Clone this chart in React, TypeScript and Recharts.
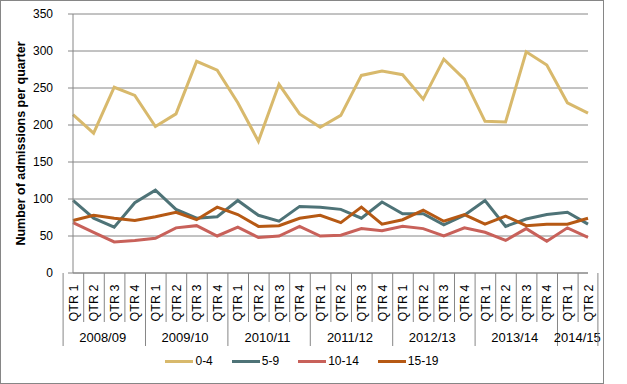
import { LineChart, Line, XAxis, YAxis, CartesianGrid, Legend } from "recharts";

// categories
const years = ["2008/09", "2009/10", "2010/11", "2011/12", "2012/13", "2013/14", "2014/15"];
const quartersInYear = [4, 4, 4, 4, 4, 4, 2];
const quarterNames = ["QTR 1", "QTR 2", "QTR 3", "QTR 4"];

// admissions per quarter, by age group
const age0to4 = [214, 189, 251, 240, 198, 215, 286, 274, 230, 178, 255, 215, 197, 213, 267, 273, 268, 235, 289, 262, 205, 204, 299, 281, 230, 216];
const age5to9 = [98, 74, 62, 95, 112, 86, 74, 76, 98, 78, 70, 90, 89, 86, 74, 96, 80, 80, 65, 78, 98, 63, 73, 79, 82, 66];
const age10to14 = [68, 55, 42, 44, 47, 61, 64, 50, 62, 48, 50, 63, 50, 51, 60, 57, 63, 60, 50, 61, 55, 44, 60, 43, 61, 48];
const age15to19 = [71, 78, 74, 71, 76, 82, 72, 89, 79, 63, 64, 74, 78, 68, 89, 66, 72, 85, 70, 79, 66, 77, 64, 66, 66, 74];

const yTicks = [0, 50, 100, 150, 200, 250, 300, 350];

const series = [
  { key: "0-4", values: age0to4, color: "#D8B96C" },
  { key: "5-9", values: age5to9, color: "#4E7377" },
  { key: "10-14", values: age10to14, color: "#C8615A" },
  { key: "15-19", values: age15to19, color: "#B65914" },
];

const categories: { year: string; quarter: string; yearSize: number }[] = [];
years.forEach((year, yi) => {
  for (let q = 0; q < quartersInYear[yi]; q++) {
    categories.push({ year, quarter: quarterNames[q], yearSize: quartersInYear[yi] });
  }
});

const data = categories.map((c, i) => {
  const row: Record<string, string | number> = { cat: `${c.year} ${c.quarter}` };
  series.forEach((s) => (row[s.key] = s.values[i]));
  return row;
});

const W = 602;
const H = 382;
const PLOT_LEFT = 72;
const PLOT_RIGHT = 587;
const BAND = (PLOT_RIGHT - PLOT_LEFT) / categories.length;
const FONT = "'Liberation Sans', Arial, sans-serif";
const AXIS = "#868686";

function QuarterTick(props: any) {
  const { x, y, payload } = props;
  const i = payload.index;
  const c = categories[i];
  const left = x - BAND / 2;
  const isStart = c.quarter === "QTR 1";
  const isLast = i === categories.length - 1;
  return (
    <g>
      <line x1={left} y1={y} x2={left} y2={y + (isStart ? 73 : 49)} stroke={AXIS} strokeWidth={1} />
      {isLast && <line x1={x + BAND / 2} y1={y} x2={x + BAND / 2} y2={y + 73} stroke={AXIS} strokeWidth={1} />}
      <text
        x={x + 4.5}
        y={y + 30}
        transform={`rotate(-90, ${x + 4.5}, ${y + 30})`}
        textAnchor="middle"
        fontSize={12.5}
        fontFamily={FONT}
        fill="#000"
      >
        {c.quarter}
      </text>
      {isStart && (
        <text x={left + (c.yearSize * BAND) / 2} y={y + 69} textAnchor="middle" fontSize={13} fontFamily={FONT} fill="#000">
          {c.year}
        </text>
      )}
    </g>
  );
}

function LegendContent() {
  return (
    <div style={{ display: "flex", justifyContent: "center", alignItems: "center", fontFamily: FONT, fontSize: 12, color: "#000" }}>
      {series.map((s, i) => (
        <div key={s.key} style={{ display: "flex", alignItems: "center", marginRight: i === series.length - 1 ? 0 : 19 }}>
          <div style={{ width: 28, height: 3, background: s.color, marginRight: 2 }} />
          <span>{s.key}</span>
        </div>
      ))}
    </div>
  );
}

export default function App() {
  return (
    <div
      style={{
        position: "absolute",
        left: 0,
        top: 0,
        width: W + 2,
        height: H + 2,
        boxSizing: "border-box",
        border: `1px solid ${AXIS}`,
        background: "#fff",
      }}
    >
      <LineChart width={W} height={H} data={data} margin={{ top: 13, right: W - PLOT_RIGHT, left: 0, bottom: 0 }}>
        <CartesianGrid vertical={false} stroke={AXIS} strokeWidth={1} />
        <XAxis
          dataKey="cat"
          interval={0}
          height={110}
          tickSize={0}
          tickMargin={0}
          tickLine={false}
          axisLine={{ stroke: AXIS }}
          tick={<QuarterTick />}
        />
        <YAxis
          domain={[0, 350]}
          ticks={yTicks}
          width={PLOT_LEFT}
          tickSize={5}
          tickMargin={15}
          axisLine={{ stroke: AXIS }}
          tickLine={{ stroke: AXIS }}
          tick={{ fontSize: 12, fontFamily: FONT, fill: "#000" }}
          label={(p: any) => {
            const vb = p.viewBox;
            const cy = vb.y + vb.height / 2;
            return (
              <text
                x={24}
                y={cy}
                transform={`rotate(-90, 24, ${cy})`}
                textAnchor="middle"
                fontSize={12.5}
                fontWeight="bold"
                fontFamily={FONT}
                fill="#000"
              >
                Number of admissions per quarter
              </text>
            );
          }}
        />
        <Legend
          layout="horizontal"
          verticalAlign="middle"
          align="center"
          content={<LegendContent />}
          wrapperStyle={{ top: 353, left: 0, width: W, height: 16 }}
        />
        {series.map((s) => (
          <Line
            key={s.key}
            dataKey={s.key}
            stroke={s.color}
            strokeWidth={3}
            dot={false}
            type="linear"
            isAnimationActive={false}
          />
        ))}
      </LineChart>
    </div>
  );
}
